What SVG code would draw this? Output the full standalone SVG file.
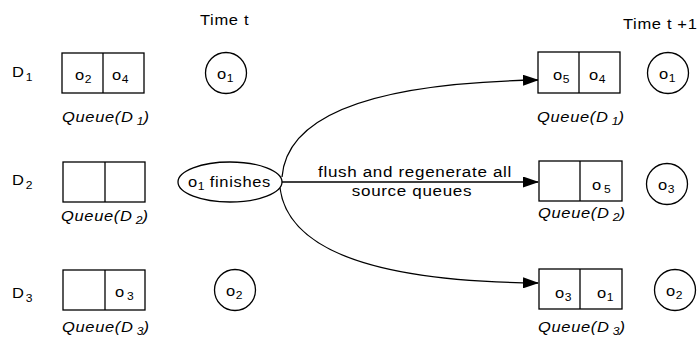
<svg xmlns="http://www.w3.org/2000/svg" width="698" height="337" viewBox="0 0 698 337">
<defs>
<style>
text{font-family:"Liberation Sans",Arial,sans-serif;font-size:15px;fill:#000;letter-spacing:0.6px}
.q{font-style:italic}
.s{font-size:11px;letter-spacing:0}
rect,circle,ellipse{fill:#fff;stroke:#000;stroke-width:1.3}
.d{stroke:#000;stroke-width:1.3}
.c{fill:none;stroke:#000;stroke-width:1.3}
</style>
<marker id="ah" markerWidth="16" markerHeight="11" refX="15" refY="5.5" orient="auto" markerUnits="userSpaceOnUse">
<path d="M0,0 L16,5.5 L0,11 Z" fill="#000"/>
</marker>
</defs>
<rect width="698" height="337" fill="#fff" style="stroke:none"/>
<text transform="translate(200,25) scale(1.1,1)">Time t</text>
<text transform="translate(623,29) scale(1.1,1)">Time t +1</text>
<g id="labels">
<text transform="translate(12,77) scale(1.1,1)">D<tspan class="s" dx="1" dy="4">1</tspan></text>
<text transform="translate(12,185) scale(1.1,1)">D<tspan class="s" dx="1" dy="4">2</tspan></text>
<text transform="translate(12,298) scale(1.1,1)">D<tspan class="s" dx="1" dy="4">3</tspan></text>
</g>
<g id="qL1">
<rect x="62" y="53" width="82" height="40"/><line class="d" x1="103" y1="53" x2="103" y2="93"/>
<text transform="translate(75,80) scale(1.1,1)">o<tspan class="s" dy="3">2</tspan></text>
<text transform="translate(112,80) scale(1.1,1)">o<tspan class="s" dy="3">4</tspan></text>
<text class="q" transform="translate(62,122) scale(1.1,1)">Queue(D<tspan class="s" dx="3" dy="3">1</tspan><tspan dy="-3">)</tspan></text>
</g>
<g id="qL2">
<rect x="63" y="162" width="82" height="40"/><line class="d" x1="105" y1="162" x2="105" y2="202"/>
<text class="q" transform="translate(61,221) scale(1.1,1)">Queue(D<tspan class="s" dx="3" dy="3">2</tspan><tspan dy="-3">)</tspan></text>
</g>
<g id="qL3">
<rect x="63" y="270" width="82" height="40"/><line class="d" x1="105" y1="270" x2="105" y2="310"/>
<text transform="translate(115,297) scale(1.1,1)">o<tspan class="s" dx="2" dy="3">3</tspan></text>
<text class="q" transform="translate(62,332) scale(1.1,1)">Queue(D<tspan class="s" dx="3" dy="3">3</tspan><tspan dy="-3">)</tspan></text>
</g>
<g id="cL1"><circle cx="226" cy="73" r="20.5"/><text transform="translate(217,79) scale(1.1,1)">o<tspan class="s" dy="3">1</tspan></text></g>
<g id="cL2"><circle cx="235" cy="290" r="20.5"/><text transform="translate(226,296) scale(1.1,1)">o<tspan class="s" dy="3">2</tspan></text></g>
<g id="finish"><ellipse cx="230" cy="182" rx="52" ry="20"/><text transform="translate(188,187) scale(1.1,1)">o<tspan class="s" dy="3">1</tspan><tspan dy="-3"> finishes</tspan></text></g>
<g id="connectors">
<path class="c" d="M282,177 C288,100 420,82 538,80" marker-end="url(#ah)"/>
<line class="c" x1="282" y1="182" x2="538" y2="182" marker-end="url(#ah)"/>
<path class="c" d="M280,188 C290,265 420,282 538,283" marker-end="url(#ah)"/>
<text text-anchor="middle" style="font-size:15.5px" transform="translate(415,177) scale(1.1,1)">flush and regenerate all</text>
<text text-anchor="middle" style="font-size:15.5px" transform="translate(412,196) scale(1.1,1)">source queues</text>
</g>
<g id="qR1">
<rect x="538" y="52" width="82" height="41"/><line class="d" x1="579" y1="52" x2="579" y2="93"/>
<text transform="translate(553,80) scale(1.1,1)">o<tspan class="s" dy="3">5</tspan></text>
<text transform="translate(589,80) scale(1.1,1)">o<tspan class="s" dy="3">4</tspan></text>
<text class="q" transform="translate(537,122) scale(1.1,1)">Queue(D<tspan class="s" dx="3" dy="3">1</tspan><tspan dy="-3">)</tspan></text>
</g>
<g id="qR2">
<rect x="539" y="161" width="83" height="40"/><line class="d" x1="580" y1="161" x2="580" y2="201"/>
<text transform="translate(592,190) scale(1.1,1)">o<tspan class="s" dx="2" dy="3">5</tspan></text>
<text class="q" transform="translate(538,218) scale(1.1,1)">Queue(D<tspan class="s" dx="3" dy="3">2</tspan><tspan dy="-3">)</tspan></text>
</g>
<g id="qR3">
<rect x="539" y="269" width="83" height="40"/><line class="d" x1="580" y1="269" x2="580" y2="309"/>
<text transform="translate(555,298) scale(1.1,1)">o<tspan class="s" dy="3">3</tspan></text>
<text transform="translate(597,298) scale(1.1,1)">o<tspan class="s" dy="3">1</tspan></text>
<text class="q" transform="translate(538,332) scale(1.1,1)">Queue(D<tspan class="s" dx="3" dy="3">3</tspan><tspan dy="-3">)</tspan></text>
</g>
<g id="cR1"><circle cx="668" cy="73" r="20.5"/><text transform="translate(659,79) scale(1.1,1)">o<tspan class="s" dy="3">1</tspan></text></g>
<g id="cR2"><circle cx="667" cy="184" r="20.5"/><text transform="translate(658,190) scale(1.1,1)">o<tspan class="s" dy="3">3</tspan></text></g>
<g id="cR3"><circle cx="675" cy="290" r="20.5"/><text transform="translate(666,296) scale(1.1,1)">o<tspan class="s" dy="3">2</tspan></text></g>
</svg>
